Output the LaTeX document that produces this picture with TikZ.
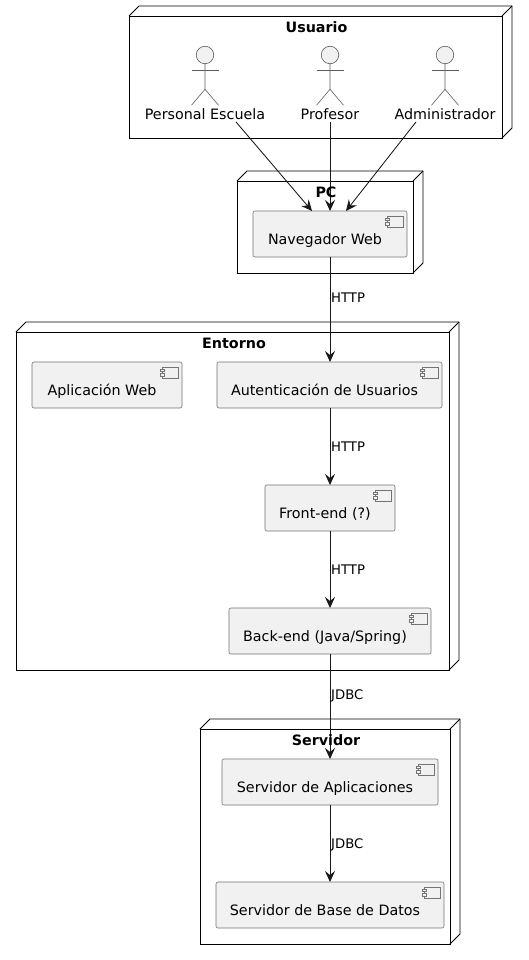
\documentclass[tikz,border=0pt]{standalone}
\usepackage{fontspec}
\setmainfont{DejaVu Sans}
\usetikzlibrary{arrows.meta,calc}
\definecolor{ink}{HTML}{181818}
\definecolor{boxfill}{HTML}{F1F1F1}
\newcommand{\txtN}{\fontsize{14.3}{16}\selectfont}
\newcommand{\txtS}{\fontsize{13.2}{15}\selectfont}
\tikzset{
  frame/.style={draw=black,line width=0.8pt,inner sep=0,outer sep=0,rectangle},
  frametitle/.style={font=\txtN\bfseries,text=black,inner sep=0,text height=10.5pt,text depth=3pt},
  compbox/.style={draw=ink!60,line width=0.6pt,fill=boxfill,rounded corners=2pt,inner sep=0,outer sep=0,minimum height=46pt},
  comptext/.style={font=\txtN,text=black,inner sep=0,text height=10.5pt,text depth=3pt},
  actorline/.style={draw=ink!70,line width=0.6pt},
  actortext/.style={font=\txtN,text=black,inner sep=0,text height=10.5pt,text depth=3pt},
  flow/.style={draw=ink,line width=0.85pt,-{Stealth[length=11pt,width=10pt,inset=4pt]}},
  flowlabel/.style={font=\txtS,text=black,inner sep=0,anchor=west,text height=9.5pt,text depth=0pt},
}
\newcommand{\compnode}[5]{% name, center x, center y, width, text
  \node[compbox,minimum width=#4pt,
    label={[comptext,xshift=-5pt,yshift=-6.5pt]center:#5}] (#1) at (#2,#3) {};
  \draw[ink!60,line width=0.6pt,fill=boxfill] ($(#1.north east)+(-20,5)$) rectangle ++(16,11);
  \draw[ink!60,line width=0.6pt,fill=boxfill] ($(#1.north east)+(-22,7)$) rectangle ++(4,2.5);
  \draw[ink!60,line width=0.6pt,fill=boxfill] ($(#1.north east)+(-22,11.5)$) rectangle ++(4,2.5);
}
\newcommand{\framenode}[5]{% name, center x, center y, width, height
  \node[frame,minimum width=#4pt,minimum height=#5pt] (#1) at (#2,#3) {};
  \draw[black,line width=0.8pt,line join=round] (#1.north west) -- ++(10,-10)
    -- ($(#1.north east)+(10,-10)$) -- ($(#1.south east)+(10,-10)$) -- (#1.south east);
  \draw[black,line width=0.8pt] (#1.north east) -- ++(10,-10);
}
\newcommand{\actorfig}[3]{% name, x, label
  \node[circle,draw=ink!70,line width=0.6pt,fill=boxfill,minimum size=17.5pt,inner sep=0,outer sep=0] (#1head) at (#2,55) {};
  \draw[actorline] (#1head.south) -- ++(0,25.5) -- ++(-13.5,16);
  \draw[actorline] (#1head.south) ++(0,25.5) -- ++(13.5,16);
  \draw[actorline] ($(#1head.south)+(-13.5,6.5)$) -- ++(27,0);
  \node[actortext] (#1) at (#2,115.5) {#3};
}
\begin{document}
\begin{tikzpicture}[x=1pt,y=-1pt]
\useasboundingbox[fill=white] (0,0) rectangle (528,960);
\framenode{usuario}{315.5}{77}{373}{122}
\framenode{pc}{325}{227}{176}{92}
\framenode{entorno}{232.5}{501}{433}{338}
\framenode{servidor}{325}{836.5}{250}{215}
\actorfig{pe}{205}{Personal Escuela}
\actorfig{prof}{330}{Profesor}
\actorfig{adm}{445}{Administrador}
\compnode{nav}{330}{234}{154}{Navegador Web}
\compnode{app}{107}{385}{150}{Aplicación Web}
\compnode{auth}{329.5}{385}{225}{Autenticación de Usuarios}
\compnode{front}{330}{508}{130}{Front-end (?)}
\compnode{back}{330}{631}{202}{Back-end (Java/Spring)}
\compnode{sapp}{330}{782}{216}{Servidor de Aplicaciones}
\compnode{sdb}{330}{905}{228}{Servidor de Base de Datos}
\draw[flow] ($(pe.south)+(31,-0.5)$) -- ($(nav.north)+(-18,0)$);
\draw[flow] (prof.south) ++(0,-0.5) -- (nav.north);
\draw[flow] ($(adm.south)+(-29,-0.5)$) -- ($(nav.north)+(16,0)$);
\draw[flow] (nav.south) -- (nav.south |- auth.north);
\draw[flow] (auth.south -| front.north) -- (front.north);
\draw[flow] (front.south) -- (back.north);
\draw[flow] (back.south) -- (sapp.north);
\draw[flow] (sapp.south) -- (sdb.north);
\node[flowlabel] (l1) at (331,298) {HTTP};
\node[flowlabel] (l2) at (331,447) {HTTP};
\node[flowlabel] (l3) at (331,570) {HTTP};
\node[flowlabel] (l4) at (331,695) {JDBC};
\node[flowlabel] (l5) at (331,844) {JDBC};
\node[frametitle] (t1) at (316.5,28.5) {Usuario};
\node[frametitle] (t2) at (326,193.5) {PC};
\node[frametitle] (t3) at (234,345) {Entorno};
\node[frametitle] (t4) at (326,742) {Servidor};
\end{tikzpicture}
\end{document}
